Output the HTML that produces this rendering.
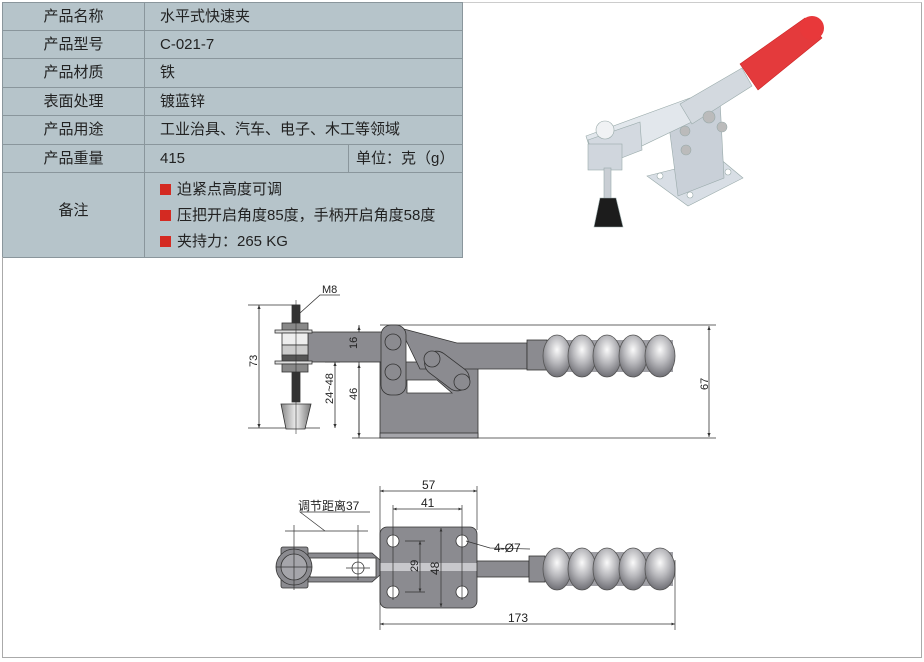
<!DOCTYPE html>
<html><head><meta charset="utf-8"><style>
*{margin:0;padding:0;box-sizing:border-box}
body{width:924px;height:662px;background:#fff;position:relative;overflow:hidden;font-family:"Liberation Sans","Noto Sans CJK SC",sans-serif;color:#222}
.c{position:absolute;background:#b6c4ca;border-right:1px solid #8a969c;border-bottom:1px solid #8a969c;font-size:15px;line-height:27px}
.l{text-align:center}
.v{padding-left:15px}
.sq{display:inline-block;width:11px;height:11px;background:#d42a22;margin-right:6px;vertical-align:-1px}
</style></head><body>
<div style="position:absolute;left:2px;top:2px;width:920px;height:656px;border:1px solid #aaa;border-top:1px solid #ccc"></div>
<div style="position:absolute;left:2px;top:2px;width:461px;height:255px;border-top:1px solid #8a969c;border-left:1px solid #8a969c"></div>
<div class="c l" style="left:3px;top:3px;width:142px;height:28px">产品名称</div>
<div class="c v" style="left:145px;top:3px;width:318px;height:28px">水平式快速夹</div>
<div class="c l" style="left:3px;top:31px;width:142px;height:28px">产品型号</div>
<div class="c v" style="left:145px;top:31px;width:318px;height:28px">C-021-7</div>
<div class="c l" style="left:3px;top:59px;width:142px;height:29px">产品材质</div>
<div class="c v" style="left:145px;top:59px;width:318px;height:29px">铁</div>
<div class="c l" style="left:3px;top:88px;width:142px;height:28px">表面处理</div>
<div class="c v" style="left:145px;top:88px;width:318px;height:28px">镀蓝锌</div>
<div class="c l" style="left:3px;top:116px;width:142px;height:29px">产品用途</div>
<div class="c v" style="left:145px;top:116px;width:318px;height:29px">工业治具、汽车、电子、木工等领域</div>
<div class="c l" style="left:3px;top:145px;width:142px;height:28px">产品重量</div>
<div class="c v" style="left:145px;top:145px;width:204px;height:28px">415</div>
<div class="c" style="left:349px;top:145px;width:114px;height:28px;padding-left:7px">单位：克（g）</div>
<div class="c l" style="left:3px;top:173px;width:142px;height:85px;line-height:75px">备注</div>
<div class="c" style="left:145px;top:173px;width:318px;height:85px;padding-left:15px;padding-top:4px;line-height:26px">
<div><span class="sq"></span>迫紧点高度可调</div>
<div><span class="sq"></span>压把开启角度85度，手柄开启角度58度</div>
<div><span class="sq"></span>夹持力：265 KG</div></div>

<svg style="position:absolute;left:0;top:0" width="924" height="662" viewBox="0 0 924 662">
<defs>
<radialGradient id="g" cx="50%" cy="35%" r="65%"><stop offset="0" stop-color="#fafafa"/><stop offset="0.5" stop-color="#b8b8bc"/><stop offset="1" stop-color="#6f6f75"/></radialGradient>
<linearGradient id="cn" x1="0" x2="1"><stop offset="0" stop-color="#888"/><stop offset="0.5" stop-color="#eee"/><stop offset="1" stop-color="#777"/></linearGradient>
<marker id="a" markerWidth="6" markerHeight="6" refX="5" refY="3" orient="auto-start-reverse"><path d="M0,1 L5,3 L0,5z" fill="#333"/></marker>
</defs>
<!-- photo -->
<g stroke="#9aa" stroke-width="0.6">
<polygon points="647,176 719,158 743,178 688,206" fill="#d8dee5"/>
<polygon points="668,118 720,100 724,178 678,196" fill="#c9d0d8"/>
<polygon points="586,136 690,98 700,118 596,168" fill="#e2e7ec"/>
<polygon points="588,140 640,122 642,150 596,168" fill="#d3d9e0"/>
<polygon points="680,104 742,68 752,86 692,124" fill="#d3d9df"/>
<polygon points="740,64 805,18 822,38 758,90" fill="#e43a3c" stroke="#c22"/>
<circle cx="812" cy="28" r="12" fill="#e8383a" stroke="none"/>
<rect x="588" y="144" width="34" height="26" fill="#d0d6dd"/>
<circle cx="605" cy="130" r="9" fill="#f0f2f4"/>
<rect x="604" y="168" width="7" height="33" fill="#c9ced4"/>
<polygon points="600,198 616,198 623,227 594,227" fill="#1c1c1c"/>
<circle cx="685" cy="131" r="5" fill="#bbb"/><circle cx="686" cy="150" r="5" fill="#bbb"/>
<circle cx="709" cy="117" r="6" fill="#bbb"/><circle cx="722" cy="127" r="5" fill="#bbb"/>
<circle cx="660" cy="176" r="3" fill="#fff"/><circle cx="728" cy="172" r="3" fill="#fff"/><circle cx="690" cy="195" r="3" fill="#fff"/>
</g>
<!-- side view -->
<g stroke="#333" stroke-width="0.8" fill="none">
<line x1="248" y1="305" x2="300" y2="305"/><line x1="248" y1="428" x2="320" y2="428"/>
<line x1="259" y1="305" x2="259" y2="428" marker-start="url(#a)" marker-end="url(#a)"/>
<line x1="325" y1="362" x2="340" y2="362"/><line x1="335" y1="362" x2="335" y2="428" marker-start="url(#a)" marker-end="url(#a)"/>
<line x1="359" y1="325" x2="359" y2="438" /><line x1="359" y1="326" x2="359" y2="362" marker-start="url(#a)" marker-end="url(#a)"/><line x1="359" y1="364" x2="359" y2="437" marker-start="url(#a)" marker-end="url(#a)"/>
<line x1="352" y1="438" x2="716" y2="438"/><line x1="380" y1="325" x2="716" y2="325"/>
<line x1="709" y1="326" x2="709" y2="437" marker-start="url(#a)" marker-end="url(#a)"/>
<polyline points="300,313 320,295 340,295"/>
</g>
<g stroke="#333" stroke-width="0.8">
<rect x="308" y="332" width="75" height="30" fill="#8b8b90"/>
<rect x="380" y="362" width="98" height="76" fill="#8b8b90"/>
<rect x="380" y="433" width="98" height="5" fill="#a5a5aa"/>
<polygon points="400,328 457,343 527,343 527,369 420,369" fill="#8b8b90"/>
<polygon points="407,380 437,380 452,393 407,393" fill="#fff"/>
<g transform="rotate(37 447 371)"><rect x="422" y="359" width="50" height="24" rx="12" fill="#8b8b90"/></g>
<rect x="381" y="325" width="25" height="70" rx="10" fill="#8b8b90"/>
<rect x="527" y="340" width="20" height="30" fill="#8b8b90"/>
<rect x="548" y="340" width="125" height="32" fill="#a0a0a6" stroke="none"/>
<ellipse cx="557" cy="356" rx="14" ry="21" fill="url(#g)" stroke="#555"/>
<ellipse cx="582" cy="356" rx="14" ry="21" fill="url(#g)" stroke="#555"/>
<ellipse cx="607" cy="356" rx="14" ry="21" fill="url(#g)" stroke="#555"/>
<ellipse cx="633" cy="356" rx="14" ry="21" fill="url(#g)" stroke="#555"/>
<ellipse cx="660" cy="356" rx="15" ry="21" fill="url(#g)" stroke="#555"/>
<g fill="#8b8b90"><circle cx="393" cy="342" r="8"/><circle cx="393" cy="372" r="8"/><circle cx="432" cy="359" r="8"/><circle cx="462" cy="382" r="8"/></g>
<rect x="292" y="305" width="8" height="20" fill="#333"/>
<rect x="292" y="370" width="8" height="32" fill="#333"/>
<rect x="282" y="323" width="26" height="8" fill="#888"/>
<rect x="275" y="330" width="37" height="3" fill="#ddd"/>
<rect x="282" y="333" width="26" height="12" fill="#eee"/>
<rect x="282" y="345" width="26" height="12" fill="#ccc"/>
<rect x="282" y="355" width="26" height="7" fill="#555"/>
<rect x="275" y="361" width="37" height="3" fill="#ddd"/>
<rect x="282" y="364" width="26" height="8" fill="#888"/>
<polygon points="281,404 311,404 305,429 286,429" fill="url(#cn)"/>
</g>
<line x1="296" y1="300" x2="296" y2="434" stroke="#333" stroke-width="0.6"/>
<g font-size="11" fill="#222" font-family="Liberation Sans,sans-serif">
<text x="322" y="293">M8</text>
<text transform="translate(257,367) rotate(-90)">73</text>
<text transform="translate(333,404) rotate(-90)">24~48</text>
<text transform="translate(357,349) rotate(-90)">16</text>
<text transform="translate(357,400) rotate(-90)">46</text>
<text transform="translate(708,390) rotate(-90)">67</text>
</g>
<!-- top view -->
<g stroke="#333" stroke-width="0.8">
<rect x="380" y="527" width="97" height="81" rx="7" fill="#8b8b90"/>
<rect x="380" y="563" width="97" height="8" fill="#c8c8cc" stroke="none"/>
<path d="M305,553 L372,553 L380,560 L380,575 L372,582 L305,582 Z" fill="#8b8b90"/>
<rect x="310" y="558" width="66" height="19" fill="#fff"/>
<rect x="281" y="547" width="27" height="41" rx="2" fill="#8b8b90"/>
<circle cx="294" cy="567" r="18" fill="#8b8b90"/><circle cx="294" cy="567" r="13" fill="#a5a5aa"/>
<circle cx="358" cy="568" r="6" fill="#fff"/>
<rect x="477" y="561" width="52" height="16" fill="#8b8b90"/>
<rect x="529" y="556" width="16" height="26" fill="#8b8b90"/>
<rect x="548" y="552" width="125" height="34" fill="#a0a0a6" stroke="none"/>
<ellipse cx="557" cy="569" rx="14" ry="21" fill="url(#g)" stroke="#555"/>
<ellipse cx="582" cy="569" rx="14" ry="21" fill="url(#g)" stroke="#555"/>
<ellipse cx="607" cy="569" rx="14" ry="21" fill="url(#g)" stroke="#555"/>
<ellipse cx="633" cy="569" rx="14" ry="21" fill="url(#g)" stroke="#555"/>
<ellipse cx="660" cy="569" rx="15" ry="21" fill="url(#g)" stroke="#555"/>
<g fill="#fff"><circle cx="393" cy="541" r="6"/><circle cx="462" cy="541" r="6"/><circle cx="393" cy="592" r="6"/><circle cx="462" cy="592" r="6"/></g>
</g>
<g stroke="#333" stroke-width="0.7" fill="none">
<line x1="380" y1="486" x2="380" y2="630"/><line x1="477" y1="486" x2="477" y2="530"/>
<line x1="380" y1="491" x2="477" y2="491" marker-start="url(#a)" marker-end="url(#a)"/>
<line x1="393" y1="505" x2="393" y2="600"/><line x1="462" y1="505" x2="462" y2="600"/>
<line x1="393" y1="509" x2="462" y2="509" marker-start="url(#a)" marker-end="url(#a)"/>
<line x1="405" y1="541" x2="425" y2="541"/><line x1="405" y1="592" x2="425" y2="592"/>
<line x1="420" y1="541" x2="420" y2="592" marker-start="url(#a)" marker-end="url(#a)"/>
<line x1="441" y1="528" x2="441" y2="607" marker-start="url(#a)" marker-end="url(#a)"/>
<line x1="675" y1="560" x2="675" y2="630"/>
<line x1="380" y1="624" x2="675" y2="624" marker-start="url(#a)" marker-end="url(#a)"/>
<line x1="294" y1="525" x2="294" y2="590"/><line x1="358" y1="525" x2="358" y2="580"/>
<line x1="285" y1="531" x2="368" y2="531"/>
<polyline points="325,531 300,512 370,512"/>
<polyline points="530,549 490,548 466,541"/>
<line x1="276" y1="567" x2="312" y2="567"/><line x1="346" y1="568" x2="370" y2="568"/>
</g>
<g font-size="11" fill="#222" font-family="Liberation Sans,'Noto Sans CJK SC',sans-serif">
<text x="422" y="489" font-size="12">57</text>
<text x="421" y="507" font-size="12">41</text>
<text transform="translate(418,572) rotate(-90)">29</text>
<text transform="translate(439,575) rotate(-90)" font-size="12">48</text>
<text x="508" y="622" font-size="12">173</text>
<text x="494" y="552" font-size="12">4-Ø7</text>
<text x="298" y="510" font-size="12">调节距离37</text>
</g>
</svg>
</body></html>
